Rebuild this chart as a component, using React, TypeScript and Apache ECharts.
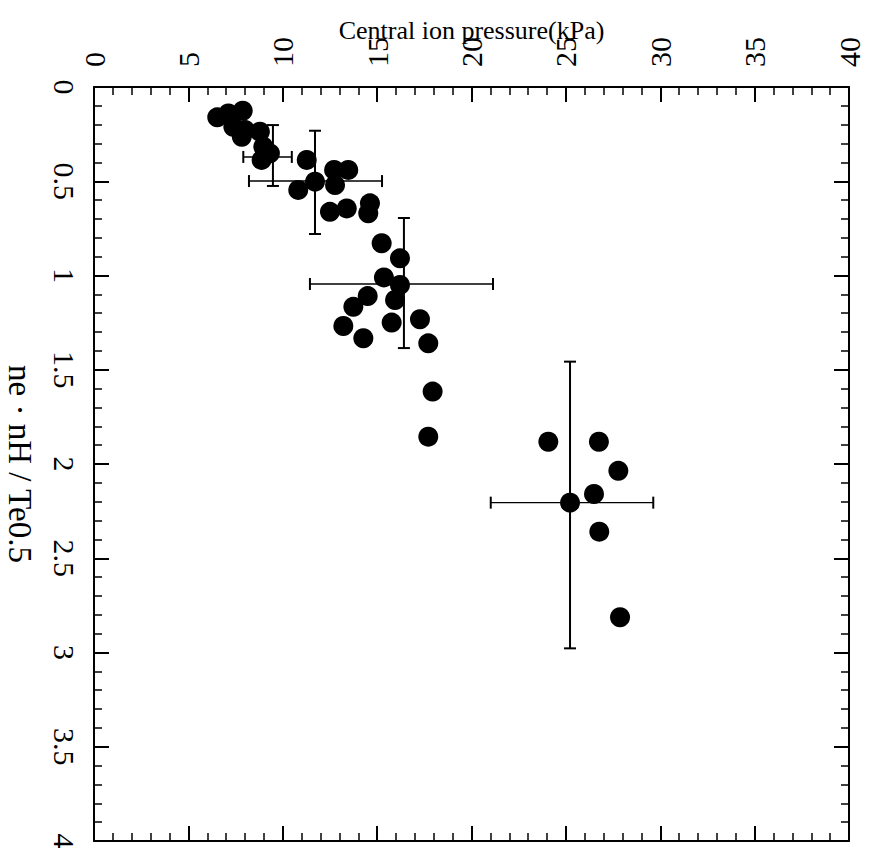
import React, { useEffect, useRef } from "react";
import * as echarts from "echarts";

// Central ion pressure (kPa) of each point
const pressure = [
  6.53, 7.12, 7.88, 7.38, 8.0, 7.83, 8.79, 8.97, 9.32, 8.88,
  11.27, 11.71, 10.82, 12.72, 13.47, 12.77, 12.5, 13.39, 14.62, 14.53,
  15.24, 16.21, 15.36, 16.21, 15.95, 14.5, 13.74, 13.21, 14.27, 15.77,
  17.27, 17.71, 17.94, 17.71, 24.07, 26.75, 27.78, 26.49, 25.22, 26.77,
  27.87,
];
// ne·nH / Te^0.5 of each point
const ratio = [
  0.161, 0.14, 0.126, 0.211, 0.228, 0.264, 0.237, 0.317, 0.352, 0.387,
  0.387, 0.502, 0.546, 0.44, 0.44, 0.52, 0.662, 0.644, 0.617, 0.67,
  0.829, 0.909, 1.01, 1.05, 1.13, 1.109, 1.166, 1.268, 1.333, 1.25,
  1.232, 1.36, 1.616, 1.855, 1.882, 1.882, 2.036, 2.159, 2.205, 2.359,
  2.813,
];

// error bars
const errCx = [9.48, 11.71, 16.42, 25.22];
const errCy = [0.371, 0.499, 1.045, 2.205];
const errXLo = [7.91, 8.21, 11.44, 21.02];
const errXHi = [10.48, 15.26, 21.14, 29.63];
const errYLo = [0.202, 0.232, 0.695, 1.457];
const errYHi = [0.525, 0.78, 1.385, 2.978];

const xTickLabels = ["0", "5", "10", "15", "20", "25", "30", "35", "40"];
const yTickLabels = ["0", "0.5", "1", "1.5", "2", "2.5", "3", "3.5", "4"];

const FONT = "'Liberation Serif', 'DejaVu Serif', serif";

export default function App() {
  const ref = useRef<HTMLDivElement>(null);
  useEffect(() => {
    if (!ref.current) return;
    const chart = echarts.init(ref.current, null, { renderer: "svg" });

    const tickCommon = {
      axisLine: { show: true, onZero: false, lineStyle: { color: "#000", width: 2 } },
      axisTick: { show: true, inside: true, length: 15, lineStyle: { color: "#000", width: 2 } },
      minorTick: { show: true, splitNumber: 5, length: 8, lineStyle: { color: "#000", width: 1.5 } },
      splitLine: { show: false },
      minorSplitLine: { show: false },
    };

    const xAxisBase = {
      type: "value" as const,
      min: 0,
      max: 40,
      interval: 5,
      ...tickCommon,
    };
    const yAxisBase = {
      type: "value" as const,
      min: 0,
      max: 4,
      interval: 0.5,
      inverse: true,
      ...tickCommon,
    };

    const errData = errCx.map((c, i) => [c, errCy[i], errXLo[i], errXHi[i], errYLo[i], errYHi[i]]);

    chart.setOption({
      animation: false,
      backgroundColor: "#fff",
      grid: { left: 94, top: 87, width: 755, height: 754, outerBoundsMode: "none", containLabel: false },
      xAxis: [
        {
          ...xAxisBase,
          position: "top",
          name: "Central ion pressure(kPa)",
          nameLocation: "middle",
          nameGap: 44,
          nameMoveOverlap: false,
          nameTextStyle: { fontFamily: FONT, fontSize: 26, color: "#000" },
          axisLabel: {
            show: true,
            rotate: -90,
            margin: 20,
            fontFamily: FONT,
            fontSize: 30,
            color: "#000",
            formatter: (v: number) => xTickLabels[Math.round(v / 5)] ?? String(v),
          },
        },
        {
          ...xAxisBase,
          position: "bottom",
          axisLabel: { show: false },
        },
      ],
      yAxis: [
        {
          ...yAxisBase,
          position: "left",
          name: "ne · nH / Te0.5",
          nameLocation: "middle",
          nameRotate: -90,
          nameGap: 58,
          nameMoveOverlap: false,
          nameTextStyle: { fontFamily: FONT, fontSize: 33, color: "#000" },
          axisLabel: {
            show: true,
            rotate: -90,
            margin: 15,
            fontFamily: FONT,
            fontSize: 30,
            color: "#000",
            formatter: (v: number) => yTickLabels[Math.round(v / 0.5)] ?? String(v),
          },
        },
        {
          ...yAxisBase,
          position: "right",
          axisLabel: { show: false },
        },
      ],
      series: [
        {
          type: "custom",
          xAxisIndex: 0,
          yAxisIndex: 0,
          z: 1,
          data: errData,
          encode: { x: [0, 2, 3], y: [1, 4, 5] },
          renderItem: (params: any, api: any) => {
            const cx = api.value(0);
            const cy = api.value(1);
            const lo = api.coord([api.value(2), cy]);
            const hi = api.coord([api.value(3), cy]);
            const top = api.coord([cx, api.value(4)]);
            const bot = api.coord([cx, api.value(5)]);
            const cap = 6;
            const stroke = { stroke: "#000", lineWidth: 1.4 };
            const vstroke = { stroke: "#000", lineWidth: 2 };
            return {
              type: "group",
              children: [
                { type: "line", shape: { x1: lo[0], y1: lo[1], x2: hi[0], y2: hi[1] }, style: stroke },
                { type: "line", shape: { x1: lo[0], y1: lo[1] - cap, x2: lo[0], y2: lo[1] + cap }, style: vstroke },
                { type: "line", shape: { x1: hi[0], y1: hi[1] - cap, x2: hi[0], y2: hi[1] + cap }, style: vstroke },
                { type: "line", shape: { x1: top[0], y1: top[1], x2: bot[0], y2: bot[1] }, style: vstroke },
                { type: "line", shape: { x1: top[0] - cap, y1: top[1], x2: top[0] + cap, y2: top[1] }, style: vstroke },
                { type: "line", shape: { x1: bot[0] - cap, y1: bot[1], x2: bot[0] + cap, y2: bot[1] }, style: vstroke },
              ],
            };
          },
        },
        {
          type: "scatter",
          xAxisIndex: 0,
          yAxisIndex: 0,
          z: 2,
          symbol: "circle",
          symbolSize: 20,
          itemStyle: { color: "#000", opacity: 1 },
          data: pressure.map((p, i) => [p, ratio[i]]),
        },
      ],
    });
    return () => chart.dispose();
  }, []);
  return (
    <div
      ref={ref}
      style={{ position: "fixed", left: 0, top: 0, width: 885, height: 854, background: "#fff" }}
    />
  );
}
